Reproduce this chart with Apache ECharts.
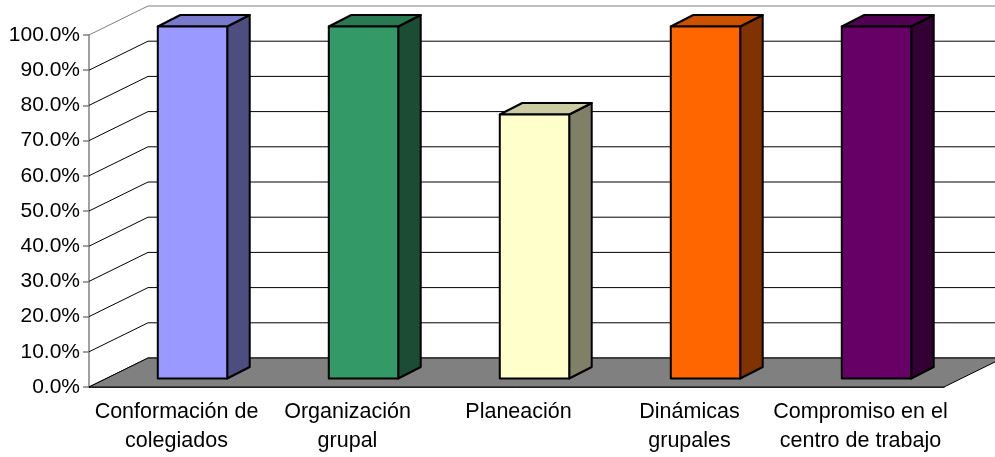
<!DOCTYPE html>
<html>
<head>
<meta charset="utf-8">
<style>
  html, body { margin: 0; padding: 0; background: #fff; }
  #chart { width: 995px; height: 457px; }
</style>
<script src="https://cdn.jsdelivr.net/npm/echarts@6/dist/echarts.min.js"></script>
</head>
<body>
<div id="chart"></div>
<script>
const categories = [
  "Conformación de\ncolegiados",
  "Organización\ngrupal",
  "Planeación",
  "Dinámicas\ngrupales",
  "Compromiso en el\ncentro de trabajo",
];
const values = [100, 100, 75, 100, 100];
const yTicks = [0, 10, 20, 30, 40, 50, 60, 70, 80, 90, 100];

// front, top and side face colours of each bar
const frontColors = ["#9999ff", "#339966", "#ffffcc", "#ff6600", "#660066"];
const topColors = ["#7a7acc", "#297a52", "#cccca3", "#cc5200", "#520052"];
const sideColors = ["#4d4d80", "#1a4d33", "#808066", "#803300", "#330033"];

// fake 3d depth of the wall and of the bars, in pixels
const wallDx = 59;
const wallDy = -29;
const barShiftX = 18;
const barShiftY = -8.5;
const barDx = 22.5;
const barDy = -11.5;

const chart = echarts.init(document.getElementById("chart"));

const renderGridLine = (params, api) => {
  const p = api.coord([0, api.value(0)]);
  const rect = params.coordSys;
  const y = p[1];
  return {
    type: "polyline",
    silent: true,
    shape: {
      points: [
        [rect.x, y],
        [rect.x + wallDx, y + wallDy],
        [rect.x + rect.width + wallDx, y + wallDy],
      ],
    },
    style: { fill: null, stroke: api.value(0) === 100 ? "#808080" : "#000", lineWidth: 1 },
  };
};

const renderFloor = (params, api) => {
  const rect = params.coordSys;
  const y = api.coord([0, 0])[1];
  return {
    type: "polygon",
    silent: true,
    shape: {
      points: [
        [rect.x, y],
        [rect.x + wallDx, y + wallDy],
        [rect.x + rect.width + wallDx, y + wallDy],
        [rect.x + rect.width, y],
      ],
    },
    style: { fill: "#808080", stroke: "#000", lineWidth: 1 },
  };
};

const renderBar = (params, api) => {
  const i = params.dataIndex;
  const base = api.coord([api.value(0), 0]);
  const top = api.coord([api.value(0), api.value(1)]);
  const halfW = api.size([1, 0])[0] * 0.203;
  const x0 = base[0] - halfW + barShiftX;
  const x1 = base[0] + halfW + barShiftX;
  const y0 = base[1] + barShiftY;
  const y1 = top[1] + barShiftY;
  const edge = { stroke: "#000", lineWidth: 2, lineJoin: "round" };
  return {
    type: "group",
    silent: true,
    children: [
      {
        type: "polygon",
        shape: { points: [[x1, y0], [x1 + barDx, y0 + barDy], [x1 + barDx, y1 + barDy], [x1, y1]] },
        style: { fill: sideColors[i], ...edge },
      },
      {
        type: "polygon",
        shape: { points: [[x0, y1], [x0 + barDx, y1 + barDy], [x1 + barDx, y1 + barDy], [x1, y1]] },
        style: { fill: topColors[i], ...edge },
      },
      {
        type: "rect",
        shape: { x: x0, y: y1, width: x1 - x0, height: y0 - y1 },
        style: { fill: frontColors[i], ...edge },
      },
    ],
  };
};

chart.setOption({
  animation: false,
  backgroundColor: "#fff",
  textStyle: { fontFamily: "Liberation Sans" },
  grid: { left: 89, top: 35, width: 855, height: 352 },
  xAxis: {
    type: "category",
    data: categories,
    axisLine: { lineStyle: { color: "#000", width: 1.5 } },
    axisTick: { length: 6, lineStyle: { color: "#808080", width: 1.5 } },
    axisLabel: { color: "#000", fontSize: 21.5, lineHeight: 29, margin: 11, interval: 0, padding: [0, 0, 0, 4] },
  },
  yAxis: {
    type: "value",
    min: 0,
    max: 100,
    interval: 10,
    splitLine: { show: false },
    axisLine: { show: true, lineStyle: { color: "#808080", width: 1.5 } },
    axisTick: { show: true, length: 6, lineStyle: { color: "#808080", width: 1.5 } },
    axisLabel: { color: "#000", fontSize: 21, margin: 9, formatter: (v) => v.toFixed(1) + "%" },
  },
  series: [
    {
      type: "custom",
      name: "Rejilla",
      data: yTicks.map((v) => [v]),
      encode: { y: 0 },
      renderItem: renderGridLine,
      clip: false,
      z: 1,
    },
    {
      type: "custom",
      name: "Piso",
      data: [[0]],
      encode: { y: 0 },
      renderItem: renderFloor,
      clip: false,
      z: 2,
    },
    {
      type: "custom",
      name: "Valores",
      data: values.map((v, i) => [i, v]),
      encode: { x: 0, y: 1 },
      renderItem: renderBar,
      clip: false,
      z: 3,
    },
  ],
});
</script>
</body>
</html>
